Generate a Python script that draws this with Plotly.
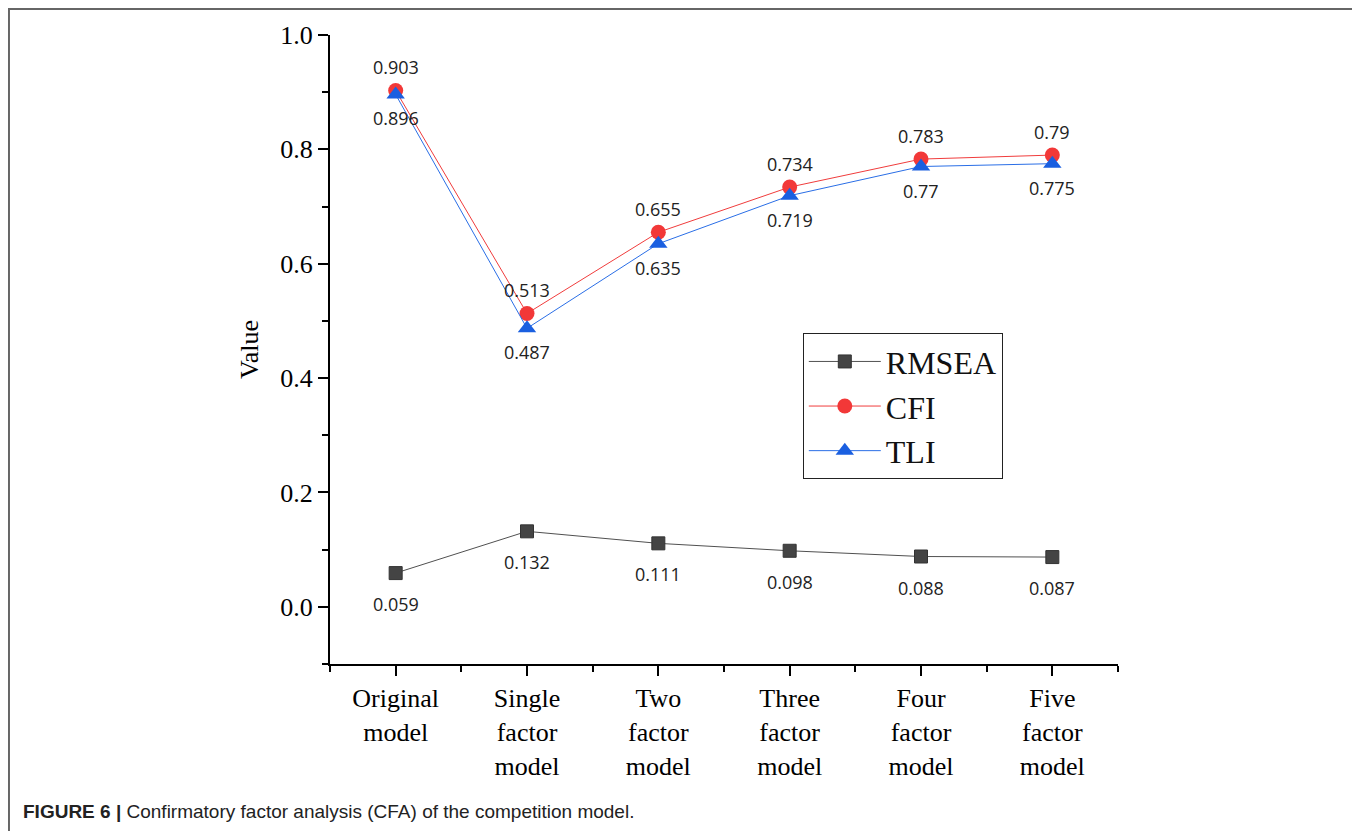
import plotly.graph_objects as go

categories = ["Original<br>model", "Single<br>factor<br>model", "Two<br>factor<br>model",
              "Three<br>factor<br>model", "Four<br>factor<br>model", "Five<br>factor<br>model"]
rmsea = [0.059, 0.132, 0.111, 0.098, 0.088, 0.087]
cfi = [0.903, 0.513, 0.655, 0.734, 0.783, 0.79]
tli = [0.896, 0.487, 0.635, 0.719, 0.77, 0.775]
rmsea_labels = ["0.059", "0.132", "0.111", "0.098", "0.088", "0.087"]
cfi_labels = ["0.903", "0.513", "0.655", "0.734", "0.783", "0.79"]
tli_labels = ["0.896", "0.487", "0.635", "0.719", "0.77", "0.775"]
y_ticks = [0.0, 0.2, 0.4, 0.6, 0.8, 1.0]
y_ticktext = ["0.0", "0.2", "0.4", "0.6", "0.8", "1.0"]

xpos = list(range(1, len(categories) + 1))

SERIF = "Liberation Serif"
SANS = "Open Sans"

fig = go.Figure()
fig.add_trace(go.Scatter(
    x=xpos, y=rmsea, name="RMSEA", mode="lines+markers",
    line=dict(color="#505050", width=1),
    marker=dict(symbol="square", size=13, color="#444444", line=dict(color="#333333", width=1)),
))
fig.add_trace(go.Scatter(
    x=xpos, y=cfi, name="CFI", mode="lines+markers",
    line=dict(color="#f03c3c", width=1),
    marker=dict(symbol="circle", size=15, color="#f23838", line=dict(color="#f23838", width=0)),
))
fig.add_trace(go.Scatter(
    x=xpos, y=tli, name="TLI", mode="lines+markers",
    line=dict(color="#2a6ee6", width=1),
    marker=dict(symbol="triangle-up", size=16, color="#1a5fe0", line=dict(color="#1a5fe0", width=0)),
))

annotations = []
for vals, labs, shift in ((rmsea, rmsea_labels, -31), (cfi, cfi_labels, 23), (tli, tli_labels, -24)):
    for xv, yv, t in zip(xpos, vals, labs):
        annotations.append(dict(
            x=xv, y=yv, xref="x", yref="y", text=t, showarrow=False,
            yshift=shift, xanchor="center", yanchor="middle",
            font=dict(family=SANS, size=18, color="#222222"),
        ))

annotations.append(dict(
    x=-0.392, y=-0.235, xref="paper", yref="paper", xanchor="left", yanchor="middle",
    showarrow=False, align="left",
    text="<b>FIGURE 6 |</b> Confirmatory factor analysis (CFA) of the competition model.",
    font=dict(family="Liberation Sans", size=19, color="#222222"),
))

fig.update_layout(
    width=1352, height=823,
    margin=dict(l=322, r=242, t=27, b=167),
    paper_bgcolor="white", plot_bgcolor="white",
    showlegend=True,
    legend=dict(
        x=0.600, y=0.526, xanchor="left", yanchor="top",
        bgcolor="white", bordercolor="#222222", borderwidth=1,
        font=dict(family=SERIF, size=32, color="#111111"),
        itemwidth=72, tracegroupgap=0,
    ),
    annotations=annotations,
    shapes=[dict(
        type="rect", xref="paper", yref="paper",
        x0=-0.4074, x1=1.3008, y0=-0.40, y1=1.0413,
        line=dict(color="#666666", width=2), fillcolor="rgba(0,0,0,0)", layer="below",
    )],
)

fig.update_xaxes(
    range=[0.5, len(categories) + 0.5],
    tickmode="array", tickvals=xpos, ticktext=categories,
    showline=True, linecolor="black", linewidth=2,
    ticks="outside", ticklen=10, tickwidth=2, tickcolor="black",
    minor=dict(tickmode="linear", tick0=0.5, dtick=1, ticks="outside", ticklen=6, tickwidth=2, tickcolor="black"),
    showgrid=False, zeroline=False,
    tickfont=dict(family=SERIF, size=26, color="black"),
)
fig.update_yaxes(
    range=[-0.1, 1.0],
    tickmode="array", tickvals=y_ticks, ticktext=y_ticktext,
    showline=True, linecolor="black", linewidth=2,
    ticks="outside", ticklen=10, tickwidth=2, tickcolor="black",
    minor=dict(tickmode="linear", tick0=0.1, dtick=0.2, ticks="outside", ticklen=6, tickwidth=2, tickcolor="black"),
    showgrid=False, zeroline=False,
    tickfont=dict(family=SERIF, size=26, color="black"),
    title=dict(text="Value", font=dict(family=SERIF, size=26, color="black"), standoff=14),
)

fig.write_html("out.html")
